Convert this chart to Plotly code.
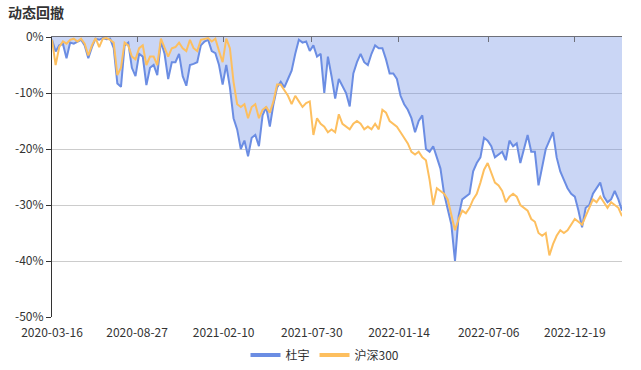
import pandas as pd
import plotly.graph_objects as go

start_date = "2020-03-16"

duyu = [-0.5, -2.6, -1.5, -1.2, -3.8, -1.0, -1.2, -0.8, -0.5, -1.5,
        -3.8, -1.8, -0.3, -0.5, -0.2, -0.4, -0.3, -2.0, -8.3, -8.9,
        -1.5, -1.0, -5.5, -7.0, -3.0, -3.5, -8.6, -5.5, -5.0, -6.8,
        -0.8, -3.0, -7.5, -4.5, -4.5, -3.0, -7.0, -8.7, -5.0, -4.8,
        -4.5, -1.5, -0.8, -0.5, -2.5, -2.9, -5.0, -8.5, -5.0, -9.0,
        -14.5, -16.5, -20.0, -18.5, -21.3, -18.0, -17.5, -19.5, -14.0, -12.5,
        -16.0, -12.0, -9.0, -8.0, -9.0, -7.5, -6.0, -3.0, -0.5, -1.0,
        -0.8, -2.5, -1.5, -3.5, -3.0, -10.0, -3.5, -7.0, -11.0, -7.5,
        -8.8, -10.0, -12.4, -6.5, -4.5, -3.0, -4.5, -5.0, -3.0, -1.5,
        -2.0, -2.0, -4.0, -6.5, -6.5, -7.5, -10.5, -12.0, -13.0, -14.5,
        -17.0, -15.0, -14.0, -20.0, -20.5, -19.5, -21.5, -23.5, -28.0, -31.0,
        -33.5, -40.0, -32.0, -29.0, -28.5, -28.0, -24.0, -22.5, -21.5, -18.0,
        -18.5, -19.5, -21.5, -21.0, -20.5, -22.0, -18.5, -19.5, -19.0, -22.5,
        -20.0, -17.5, -20.5, -20.5, -26.5, -23.0, -20.0, -18.5, -17.0, -21.5,
        -24.0, -25.5, -27.0, -28.0, -28.5, -31.0, -34.0, -30.5, -30.0, -28.0,
        -27.0, -26.0, -28.5, -29.5, -29.0, -27.5, -29.0, -31.0]

hs300 = [-0.5, -5.0, -1.8, -0.8, -1.2, -0.5, -0.3, -0.8, -0.3, -1.2,
         -3.3, -1.5, -0.2, -1.8, -0.3, -0.2, -0.5, -1.0, -6.8, -5.5,
         -1.0, -1.5, -3.5, -4.0, -2.0, -1.5, -5.0, -3.5, -3.5, -5.0,
         -0.3, -1.8, -3.5, -2.0, -1.8, -1.0, -2.0, -2.5, -0.5, -2.0,
         -2.5, -0.5, -0.3, -0.2, -0.8, -0.3, -2.5, -4.5, -0.3, -2.0,
         -8.0, -12.0, -12.5, -12.0, -14.5, -12.5, -12.0, -14.5, -13.0, -12.5,
         -13.5, -11.5, -8.5, -8.5, -9.5, -10.5, -12.0, -10.5, -11.5, -12.5,
         -11.8, -11.5, -17.5, -14.5, -15.5, -16.0, -17.0, -16.5, -17.0, -13.8,
         -15.5, -16.0, -16.5, -15.5, -15.0, -15.5, -16.5, -16.0, -16.5, -15.5,
         -16.5, -13.0, -13.5, -15.0, -15.5, -16.0, -17.0, -18.0, -19.0, -20.5,
         -21.0, -20.5, -21.5, -22.0, -25.5, -30.0, -27.0, -27.5, -28.0, -29.0,
         -32.0, -34.5, -32.5, -31.0, -31.5, -30.5, -29.0, -28.0, -26.0, -23.7,
         -22.5, -24.3, -26.0, -26.5, -27.5, -29.5, -28.5, -28.0, -28.5, -30.0,
         -30.5, -31.0, -32.5, -33.0, -35.0, -35.5, -35.0, -39.0, -37.0, -35.5,
         -34.5, -35.0, -34.5, -33.5, -32.5, -33.0, -33.5, -32.0, -30.5, -29.0,
         -29.5, -28.5, -29.5, -30.5, -29.5, -30.0, -30.5, -32.0]

dates = pd.date_range(start_date, periods=len(duyu), freq="7D")

tick_labels = ["2020-03-16", "2020-08-27", "2021-02-10", "2021-07-30",
               "2022-01-14", "2022-07-06", "2022-12-19"]
y_ticks = [0, -10, -20, -30, -40, -50]
series_names = ["杜宇", "沪深300"]

BLUE = "#6b8de3"
ORANGE = "#fdbf5f"
FONT = "Noto Sans CJK SC"

fig = go.Figure()
fig.add_trace(go.Scatter(x=dates, y=duyu, mode="lines", fill="tozeroy",
                         fillcolor="rgba(107,141,227,0.36)",
                         line=dict(width=0, color=BLUE), showlegend=False,
                         hoverinfo="skip"))
fig.add_trace(go.Scatter(x=dates, y=duyu, mode="lines", name=series_names[0],
                         line=dict(width=2, color=BLUE), showlegend=False))
fig.add_trace(go.Scatter(x=dates, y=hs300, mode="lines", name=series_names[1],
                         line=dict(width=2, color=ORANGE), showlegend=False))
# legend entries (thicker icon like the reference)
fig.add_trace(go.Scatter(x=[None], y=[None], mode="lines", name=series_names[0],
                         line=dict(width=4, color=BLUE)))
fig.add_trace(go.Scatter(x=[None], y=[None], mode="lines", name=series_names[1],
                         line=dict(width=4, color=ORANGE)))

xr = [dates[0], dates[-1]]
fig.update_layout(
    width=641, height=370,
    margin=dict(l=52, r=19, t=37, b=53, autoexpand=False),
    paper_bgcolor="white", plot_bgcolor="white",
    font=dict(family=FONT, size=12, color="#333"),
    title=dict(text="<b>动态回撤</b>", x=8/641, xref="container", xanchor="left",
               y=1-13/370, yref="container", yanchor="middle",
               font=dict(family=FONT, size=14, color="#333")),
    xaxis=dict(type="date", range=xr, tickmode="array",
               tickvals=tick_labels, ticktext=tick_labels,
               showgrid=False, zeroline=False, showline=False, ticks="",
               tickfont=dict(size=12, color="#333"), ticklabelstandoff=7,
               automargin=False),
    xaxis2=dict(type="date", range=xr, overlaying="x", side="top",
                anchor="y", tickmode="array", tickvals=tick_labels,
                showticklabels=False, showline=True, linecolor="#6E7079",
                linewidth=1, ticks="inside", ticklen=5, tickcolor="#6E7079",
                showgrid=False, zeroline=False, automargin=False),
    yaxis=dict(range=[-50, 0], tickmode="array", tickvals=y_ticks,
               ticktext=[f"{v}%" for v in y_ticks],
               showgrid=True, gridcolor="#cccccc", gridwidth=1,
               zeroline=False, showline=True, linecolor="#333", linewidth=1,
               ticks="outside", ticklen=5, tickcolor="#333",
               tickfont=dict(size=12, color="#333"), automargin=False),
    legend=dict(orientation="h", x=(325-52)/570, xanchor="center",
                y=-38/280, yanchor="middle", font=dict(size=12, color="#333"),
                itemwidth=30, bgcolor="rgba(0,0,0,0)"),
    hovermode="x",
)
# empty trace to activate the top axis
fig.add_trace(go.Scatter(x=xr, y=[None, None], xaxis="x2", showlegend=False,
                         hoverinfo="skip"))

fig.write_html("out.html", config={"displayModeBar": False},
               post_script="document.body.style.margin='0';"
                           "document.documentElement.style.overflow='hidden';")
